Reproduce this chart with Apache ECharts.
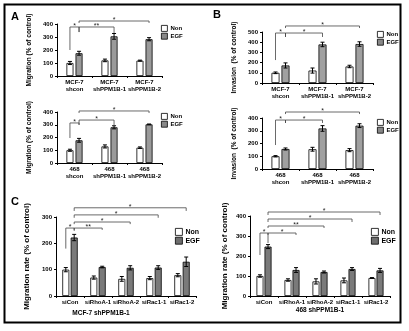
<!DOCTYPE html>
<html><head><meta charset="utf-8">
<script src="https://cdn.jsdelivr.net/npm/echarts@6/dist/echarts.min.js"></script>
<style>html,body{margin:0;padding:0;background:#fff}#c{width:409px;height:331px}</style>
</head><body><div id="c"></div>
<script>
// ---------- data ----------
const catsA1 = ['MCF-7\nshcon', 'MCF-7\nshPPM1B-1', 'MCF-7\nshPPM1B-2'];
const catsA2 = ['468\nshcon', '468\nshPPM1B-1', '468\nshPPM1B-2'];
const catsC = ['siCon', 'siRhoA-1', 'siRhoA-2', 'siRac1-1', 'siRac1-2'];

const nonA1 = [100, 120, 118], nonA1Err = [12, 10, 4];
const egfA1 = [175, 305, 283], egfA1Err = [15, 22, 12];
const nonA2 = [100, 130, 120], nonA2Err = [8, 12, 6];
const egfA2 = [178, 280, 303], egfA2Err = [15, 12, 3];

const nonB1 = [100, 122, 162], nonB1Err = [8, 25, 12];
const egfB1 = [172, 378, 382], egfB1Err = [25, 22, 22];
const nonB2 = [100, 155, 148], nonB2Err = [5, 15, 12];
const egfB2 = [157, 318, 340], egfB2Err = [8, 22, 15];

const nonC1 = [100, 70, 65, 68, 79], nonC1Err = [8, 6, 9, 6, 6];
const egfC1 = [222, 110, 107, 108, 130], egfC1Err = [12, 3, 8, 7, 18];
const nonC2 = [100, 80, 73, 78, 90], nonC2Err = [6, 6, 13, 12, 2];
const egfC2 = [247, 130, 120, 135, 128], egfC2Err = [10, 12, 5, 7, 10];

// brackets: [cat1, side1, cat2, side2, level, end1, end2, label]
const brA1 = [[0,-1,0,1,377,200,338,'*'],[0,1,1,1,377,338,330,'**'],[0,1,2,1,423,408,408,'*']];
const brA2 = [[0,-1,0,1,314,196,300,'*'],[0,1,1,1,337,298,298,'*'],[0,1,2,1,408,392,392,'*']];
const brB1 = [[0,-1,0,1,490,225,451,'*'],[0,1,1,1,490,451,451,'*'],[0,1,2,1,559,539,539,'*']];
const brB2 = [[0,-1,0,1,384,188,361,'*'],[0,1,1,1,384,361,361,'*'],[0,1,2,1,447,431,431,'*']];
const brC1 = [[0,-1,0,1,258,180,247,'*'],[0,1,1,1,258,251,251,'**'],[0,1,2,1,281,273,273,'*'],[0,1,3,1,308,297,297,'*'],[0,1,4,1,335,323,323,'*']];
const brC2 = [[0,-1,0,1,315,205,265,'*'],[0,1,1,1,315,305,305,'*'],[0,1,2,1,350,340,340,'**'],[0,1,3,1,385,370,370,'*'],[0,1,4,1,420,405,405,'*']];

const yMaxA1 = 400, yMaxA2 = 400, yMaxB1 = 500, yMaxB2 = 400, yMaxC1 = 300, yMaxC2 = 400;

// ---------- layout ----------
const FONT = 'Liberation Sans';
const panels = [
  {cats: catsA1, non: nonA1, nonE: nonA1Err, egf: egfA1, egfE: egfA1Err, br: brA1, max: yMaxA1,
   grid: {left: 57, top: 24, width: 105, height: 52}, bw: 7, gap: 0.3, egfColor: '#9a9a9a',
   yName: 'Migration (% of control)', yGap: 24, fs: 6, nameFs: 6.5, legend: {left: 156, top: 20}, lfs: 6, li: 6},
  {cats: catsA2, non: nonA2, nonE: nonA2Err, egf: egfA2, egfE: egfA2Err, br: brA2, max: yMaxA2,
   grid: {left: 57, top: 112, width: 105, height: 51}, bw: 7, gap: 0.3, egfColor: '#9a9a9a',
   yName: 'Migration (% of control)', yGap: 24, fs: 6, nameFs: 6.5, legend: {left: 156, top: 108}, lfs: 6, li: 6},
  {cats: catsA1, non: nonB1, nonE: nonB1Err, egf: egfB1, egfE: egfB1Err, br: brB1, max: yMaxB1,
   grid: {left: 262, top: 32, width: 111, height: 51}, bw: 8, gap: 0.25, egfColor: '#a0a0a0',
   yName: 'Invasion  (% of control)', yGap: 24, fs: 6, nameFs: 6.5, legend: {left: 372, top: 26}, lfs: 6, li: 6},
  {cats: catsA2, non: nonB2, nonE: nonB2Err, egf: egfB2, egfE: egfB2Err, br: brB2, max: yMaxB2,
   grid: {left: 262, top: 118, width: 111, height: 51}, bw: 8, gap: 0.25, egfColor: '#a0a0a0',
   yName: 'Invasion  (% of control)', yGap: 24, fs: 6, nameFs: 6.5, legend: {left: 372, top: 114}, lfs: 6, li: 6},
  {cats: catsC, non: nonC1, nonE: nonC1Err, egf: egfC1, egfE: egfC1Err, br: brC1, max: yMaxC1,
   grid: {left: 56, top: 217, width: 140, height: 79}, bw: 7, gap: 0.2, egfColor: '#7a7a7a',
   yName: 'Migration rate (% of control)', yGap: 25, fs: 6, nameFs: 8, legend: {left: 170, top: 223}, lfs: 7, li: 7,
   xName: 'MCF-7 shPPM1B-1', xGap: 14, xPad: [0, 50, 0, 0]},
  {cats: catsC, non: nonC2, nonE: nonC2Err, egf: egfC2, egfE: egfC2Err, br: brC2, max: yMaxC2,
   grid: {left: 250, top: 216, width: 140, height: 80}, bw: 7, gap: 0.15, egfColor: '#7a7a7a',
   yName: 'Migration rate (% of control)', yGap: 21, fs: 6, nameFs: 8, legend: {left: 366, top: 223}, lfs: 7, li: 7,
   xName: '468 shPPM1B-1', xGap: 11, xPad: [0, 0, 0, 0]}
];

const grid = [], xAxis = [], yAxis = [], series = [], legend = [];
panels.forEach((p, i) => {
  grid.push(Object.assign({containLabel: false}, p.grid));
  xAxis.push({
    type: 'category', gridIndex: i, data: p.cats,
    axisLine: {lineStyle: {color: '#000', width: 1}},
    axisTick: {show: true, length: 2, lineStyle: {color: '#000'}},
    axisLabel: {interval: 0, color: '#000', fontFamily: FONT, fontWeight: 'bold', fontSize: p.fs, lineHeight: 7, margin: 3},
    name: p.xName || '', nameLocation: 'middle', nameGap: p.xGap || 0,
    nameTextStyle: {color: '#000', fontFamily: FONT, fontWeight: 'bold', fontSize: 6.5, padding: p.xPad || 0},
    splitLine: {show: false}
  });
  yAxis.push({
    type: 'value', gridIndex: i, min: 0, max: p.max, interval: 100,
    axisLine: {show: true, lineStyle: {color: '#000', width: 1}},
    axisTick: {show: true, length: 2, lineStyle: {color: '#000'}},
    axisLabel: {color: '#000', fontFamily: FONT, fontWeight: 'bold', fontSize: p.fs, margin: 4},
    splitLine: {show: false},
    name: p.yName, nameLocation: 'middle', nameGap: p.yGap, nameRotate: 90,
    nameTextStyle: {color: '#000', fontFamily: FONT, fontWeight: 'bold', fontSize: p.nameFs}
  });
  const off = p.bw * (1 + p.gap) / 2;
  series.push({
    type: 'bar', name: 'Non', xAxisIndex: i, yAxisIndex: i, data: p.non, barWidth: p.bw, barGap: (p.gap * 100) + '%',
    itemStyle: {color: '#fff', borderColor: '#000', borderWidth: 0.8}, silent: true
  });
  series.push({
    type: 'bar', name: 'EGF', xAxisIndex: i, yAxisIndex: i, data: p.egf, barWidth: p.bw, barGap: (p.gap * 100) + '%',
    itemStyle: {color: p.egfColor, borderColor: '#000', borderWidth: 0.8}, silent: true
  });
  const errData = [];
  p.non.forEach((v, k) => errData.push([k, -1, v, p.nonE[k]]));
  p.egf.forEach((v, k) => errData.push([k, 1, v, p.egfE[k]]));
  series.push({
    type: 'custom', xAxisIndex: i, yAxisIndex: i, data: errData, encode: {x: 0, y: 2}, silent: true, z: 5, clip: false,
    renderItem: (params, api) => {
      const c = api.value(0), s = api.value(1), m = api.value(2), e = api.value(3);
      const top = api.coord([c, m + e]), bot = api.coord([c, m - e]);
      const x = top[0] + s * off;
      const st = {stroke: '#000', lineWidth: 1};
      return {type: 'group', children: [
        {type: 'line', shape: {x1: x, y1: top[1], x2: x, y2: bot[1]}, style: st},
        {type: 'line', shape: {x1: x - 2, y1: top[1], x2: x + 2, y2: top[1]}, style: st},
        {type: 'line', shape: {x1: x - 2, y1: bot[1], x2: x + 2, y2: bot[1]}, style: st}
      ]};
    }
  });
  const brLabels = p.br.map(b => b[7]);
  series.push({
    type: 'custom', xAxisIndex: i, yAxisIndex: i, data: p.br.map(b => b.slice(0, 7)), encode: {x: 0, y: 4},
    silent: true, z: 6, clip: false,
    renderItem: (params, api) => {
      const c1 = api.value(0), s1 = api.value(1), c2 = api.value(2), s2 = api.value(3);
      const lv = api.value(4), e1 = api.value(5), e2 = api.value(6);
      const p1 = api.coord([c1, lv]), p2 = api.coord([c2, lv]);
      const x1 = p1[0] + s1 * off, x2 = p2[0] + s2 * off, y = p1[1];
      const y1 = api.coord([c1, e1])[1], y2 = api.coord([c2, e2])[1];
      return {type: 'group', children: [
        {type: 'polyline', shape: {points: [[x1, y1], [x1, y], [x2, y], [x2, y2]]},
         style: {stroke: '#444', lineWidth: 0.8, fill: 'none'}},
        {type: 'text', x: (x1 + x2) / 2, y: y + 3,
         style: {text: brLabels[params.dataIndex], fill: '#222', fontSize: 7, fontFamily: FONT,
                 align: 'center', verticalAlign: 'bottom'}}
      ]};
    }
  });
  legend.push({
    orient: 'vertical', left: p.legend.left, top: p.legend.top, itemWidth: p.li, itemHeight: p.li, itemGap: 1,
    icon: 'rect', selectedMode: false,
    textStyle: {color: '#000', fontFamily: FONT, fontWeight: 'bold', fontSize: p.lfs, padding: [0, 0, 0, -2]},
    data: [
      {name: 'Non', itemStyle: {color: '#fff', borderColor: '#000', borderWidth: 0.8}},
      {name: 'EGF', itemStyle: {color: p.egfColor === '#7a7a7a' ? '#6e6e6e' : '#888', borderColor: '#000', borderWidth: 0.8}}
    ]
  });
});

const chart = echarts.init(document.getElementById('c'), null, {renderer: 'canvas'});
chart.setOption({
  animation: false,
  backgroundColor: '#fff',
  grid, xAxis, yAxis, series, legend,
  graphic: [
    {type: 'rect', shape: {x: 4.5, y: 4.5, width: 396, height: 318}, style: {fill: 'none', stroke: '#000', lineWidth: 2}, silent: true},
    {type: 'text', left: 11, top: 11, style: {text: 'A', fontSize: 11, fontWeight: 'bold', fontFamily: FONT, fill: '#000'}},
    {type: 'text', left: 213, top: 9, style: {text: 'B', fontSize: 11, fontWeight: 'bold', fontFamily: FONT, fill: '#000'}},
    {type: 'text', left: 11, top: 196, style: {text: 'C', fontSize: 11, fontWeight: 'bold', fontFamily: FONT, fill: '#000'}}
  ]
});
</script></body></html>
